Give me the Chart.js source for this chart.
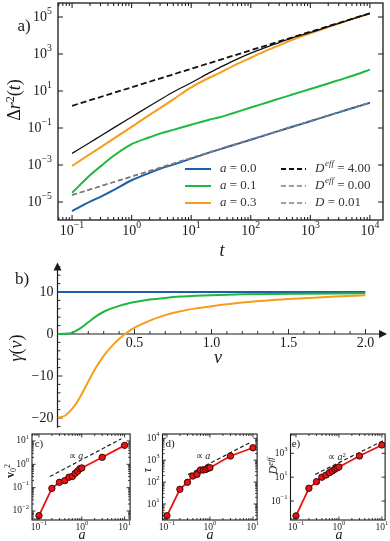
<!DOCTYPE html>
<html>
<head>
<meta charset="utf-8">
<script src="https://cdn.jsdelivr.net/npm/chart.js@4.4.0/dist/chart.umd.min.js"></script>
<style>
html, body { margin: 0; padding: 0; background: #fff; }
#wrap { position: relative; width: 390px; height: 541px; overflow: hidden; }
canvas { position: absolute; }
.lbl { position: absolute; transform: translate(-50%, -50%); white-space: nowrap; font-family: "Liberation Serif", serif; line-height: 1; color: #1a1a1a; }
.rot { transform: translate(-50%, -50%) rotate(-90deg); }
.lbl sup { font-size: 0.68em; vertical-align: 0.5em; line-height: 0; }
.lbl sub { font-size: 0.68em; vertical-align: -0.25em; line-height: 0; }
</style>
</head>
<body>
<div id="wrap">
  <canvas id="cA" width="390" height="245" style="left:0;top:0"></canvas>
  <canvas id="cB" width="390" height="182" style="left:0;top:250px"></canvas>
  <canvas id="cC" width="135" height="116" style="left:0;top:425px"></canvas>
  <canvas id="cD" width="127" height="116" style="left:135px;top:425px"></canvas>
  <canvas id="cE" width="128" height="116" style="left:262px;top:425px"></canvas>

  <div class="lbl" style="left:24px;top:25px;font-size:17px">a)</div>
  <div class="lbl rot" style="left:14px;top:100px;font-size:18px">Δ<i>r</i><sup>2</sup>(<i>t</i>)</div>
  <div class="lbl" style="left:222px;top:250px;font-size:18px"><i>t</i></div>

  <div class="lbl" style="left:22px;top:278px;font-size:17px">b)</div>
  <div class="lbl rot" style="left:16px;top:348px;font-size:18px"><i>γ</i>(<i>v</i>)</div>
  <div class="lbl" style="left:218px;top:357px;font-size:18px"><i>v</i></div>

  <div class="lbl" style="left:39px;top:443px;font-size:11px">c)</div>
  <div class="lbl rot" style="left:10px;top:471px;font-size:12px"><b>v</b><sub>0</sub><sup>2</sup></div>
  <div class="lbl" style="left:82px;top:535px;font-size:14px"><i>a</i></div>
  <div class="lbl" style="left:76px;top:456px;font-size:10px">∝ <i>a</i></div>

  <div class="lbl" style="left:170px;top:443px;font-size:11px">d)</div>
  <div class="lbl rot" style="left:147px;top:470px;font-size:12px"><i>τ</i></div>
  <div class="lbl" style="left:210px;top:535px;font-size:14px"><i>a</i></div>
  <div class="lbl" style="left:203px;top:456px;font-size:10px">∝ <i>a</i></div>

  <div class="lbl" style="left:296px;top:443px;font-size:11px">e)</div>
  <div class="lbl rot" style="left:273px;top:466px;font-size:12px"><i>D</i><sup><i>eff</i></sup></div>
  <div class="lbl" style="left:339px;top:535px;font-size:14px"><i>a</i></div>
  <div class="lbl" style="left:337px;top:457px;font-size:10px">∝ <i>a</i><sup>2</sup></div>
</div>

<script>
// ---- panel a: mean squared displacement ----
const tA = [0.1, 0.2, 0.3, 0.5, 1, 2, 3, 5, 10, 20, 30, 50, 100, 200, 300, 500, 1000, 2000, 3000, 5000, 10000];
const msdA00 = [3.24e-6, 1.05e-5, 1.91e-5, 4.47e-5, 1.51e-4, 3.8e-4, 6.31e-4, 1.05e-3, 2.24e-3, 4.68e-3, 7.08e-3, 0.0117, 0.0234, 0.0468, 0.0708, 0.117, 0.234, 0.468, 0.708, 1.17, 2.34];
const msdA01 = [3.16e-5, 2.82e-4, 8.5e-4, 3.16e-3, 0.0135, 0.0316, 0.0501, 0.0794, 0.151, 0.282, 0.38, 0.631, 1.29, 2.57, 3.89, 6.46, 12.9, 25.7, 38.9, 64.6, 145];
const msdA03 = [8.9e-4, 3.9e-3, 9.1e-3, 0.0269, 0.117, 0.513, 1.2, 3.55, 15.8, 52.5, 95.5, 224, 631, 1740, 2950, 5890, 13200, 28800, 44700, 77600, 158000];
const msdBlack = [4.27e-3, 0.0166, 0.0372, 0.102, 0.398, 1.55, 3.39, 8.9, 28.2, 95.5, 186, 417, 1122, 2630, 4170, 7590, 14800, 30200, 45700, 77600, 158000];
const tFit = [0.1, 10000];
const fitDeff4 = [1.6, 160000];
const fitDeff0 = [2.4e-5, 2.4];
const fitD001 = [2.4e-5, 2.4];

// ---- panel b: friction gamma(v) ----
const vB = [0, 0.05, 0.1, 0.15, 0.2, 0.25, 0.3, 0.35, 0.4, 0.45, 0.5, 0.6, 0.7, 0.8, 0.9, 1.0, 1.2, 1.4, 1.6, 1.8, 2.0];
const gammaA00 = [10, 10, 10, 10, 10, 10, 10, 10, 10, 10, 10, 10, 10, 10, 10, 10, 10, 10, 10, 10, 10];
const gammaA01 = [0, 0.05, 0.4, 1.4, 2.8, 4.2, 5.3, 6.1, 6.7, 7.2, 7.6, 8.2, 8.6, 8.9, 9.1, 9.25, 9.45, 9.55, 9.6, 9.65, 9.7];
const gammaA03 = [-20, -19.4, -17.6, -14.8, -11.3, -8.0, -5.2, -3.0, -1.2, 0.3, 1.5, 3.2, 4.5, 5.4, 6.1, 6.6, 7.5, 8.1, 8.5, 8.9, 9.2];

// ---- panels c, d, e: fitted parameters vs a ----
const aVals = [0.1, 0.2, 0.3, 0.4, 0.5, 0.6, 0.7, 0.8, 0.9, 1.0, 3.0, 10.0];
const v0sq = [0.0063, 0.093, 0.17, 0.2, 0.28, 0.3, 0.41, 0.51, 0.65, 0.7, 2.0, 6.5];
const tauVals = [2.9, 47, 98, 190, 225, 355, 355, 380, 425, 455, 1550, 3700];
const deffVals = [0.0057, 1.17, 4.2, 10, 15, 24, 33, 46, 59, 72, 600, 5000];
const aGuideC = [0.18, 8.4], guideC = [0.3, 12.5];
const aGuideD = [0.31, 8.7], guideD = [220, 6500];
const aGuideE = [0.28, 10.5], guideE = [17, 11000];

const SERIF = '"Liberation Serif", serif';
const INK = '#1a1a1a';
const BLUE = '#1d5ea8', GREEN = '#1db83d', ORANGE = '#f89c1c', RED = '#ee1111';

const pts = (xs, ys) => xs.map((x, i) => ({ x: x, y: ys[i] }));

function powLabel(ctx, x, y, exp, size, align) {
    const e = String(exp).replace('-', '\u2212');
    ctx.font = size + 'px ' + SERIF;
    const wb = ctx.measureText('10').width;
    ctx.font = (size * 0.7) + 'px ' + SERIF;
    const we = ctx.measureText(e).width;
    const x0 = align === 'right' ? x - wb - we : x - (wb + we) / 2;
    ctx.textAlign = 'left';
    ctx.textBaseline = 'middle';
    ctx.font = size + 'px ' + SERIF;
    ctx.fillText('10', x0, y);
    ctx.font = (size * 0.7) + 'px ' + SERIF;
    ctx.fillText(e, x0 + wb, y - size * 0.42);
}

// frame with inward ticks on all sides, 10^n labels
const logFrame = {
    id: 'logFrame',
    afterDatasetsDraw(chart, args, o) {
        const { ctx, chartArea: ca, scales } = chart;
        const xs = scales.x, ys = scales.y;
        ctx.save();
        ctx.strokeStyle = INK;
        ctx.fillStyle = INK;
        ctx.lineWidth = o.lw;
        ctx.strokeRect(ca.left, ca.top, ca.right - ca.left, ca.bottom - ca.top);
        ctx.lineWidth = o.lw * 0.8;

        function ticksFor(scale, majors, minor) {
            const out = [];
            const lo = Math.floor(Math.log10(scale.min)), hi = Math.ceil(Math.log10(scale.max));
            majors.forEach(k => out.push([Math.pow(10, k), o.maj]));
            if (minor) {
                for (let k = lo; k <= hi; k++) {
                    for (let m = 2; m <= 9; m++) {
                        const v = m * Math.pow(10, k);
                        if (v > scale.min && v < scale.max) out.push([v, o.min]);
                    }
                }
            }
            return out;
        }
        ctx.beginPath();
        ticksFor(xs, o.xMaj, o.xMinor).forEach(([v, len]) => {
            const p = xs.getPixelForValue(v);
            ctx.moveTo(p, ca.bottom); ctx.lineTo(p, ca.bottom - len);
            ctx.moveTo(p, ca.top); ctx.lineTo(p, ca.top + len);
        });
        ticksFor(ys, o.yMaj, o.yMinor).forEach(([v, len]) => {
            const p = ys.getPixelForValue(v);
            ctx.moveTo(ca.left, p); ctx.lineTo(ca.left + len, p);
            ctx.moveTo(ca.right, p); ctx.lineTo(ca.right - len, p);
        });
        ctx.stroke();

        o.xLab.forEach(k => powLabel(ctx, xs.getPixelForValue(Math.pow(10, k)), ca.bottom + o.xOff, k, o.fs, 'center'));
        o.yLab.forEach(k => powLabel(ctx, ca.left - o.yOff, ys.getPixelForValue(Math.pow(10, k)), k, o.fs, 'right'));
        ctx.restore();
    }
};

// legend of panel a, two columns
const legendA = {
    id: 'legendA',
    afterDraw(chart) {
        const ctx = chart.ctx;
        const rows = [169, 186, 203];
        const left = [
            { c: BLUE, v: '0.0' }, { c: GREEN, v: '0.1' }, { c: ORANGE, v: '0.3' }
        ];
        const right = [
            { c: '#111', w: 1.8, s: 'eff', v: '4.00' },
            { c: '#7d7d7d', w: 1.5, s: 'eff', v: '0.00' },
            { c: '#7d7d7d', w: 1.5, s: '', v: '0.01' }
        ];
        ctx.save();
        ctx.textBaseline = 'middle';
        ctx.textAlign = 'left';
        rows.forEach((y, i) => {
            ctx.setLineDash([]);
            ctx.strokeStyle = left[i].c;
            ctx.lineWidth = 2;
            ctx.beginPath(); ctx.moveTo(185, y); ctx.lineTo(211, y); ctx.stroke();
            ctx.fillStyle = '#333';
            ctx.font = 'italic 13px ' + SERIF;
            ctx.fillText('a', 220, y);
            let x = 220 + ctx.measureText('a').width;
            ctx.font = '13px ' + SERIF;
            ctx.fillText(' = ' + left[i].v, x, y);

            ctx.setLineDash([5, 3]);
            ctx.strokeStyle = right[i].c;
            ctx.lineWidth = right[i].w;
            ctx.beginPath(); ctx.moveTo(281, y); ctx.lineTo(306, y); ctx.stroke();
            ctx.font = 'italic 13px ' + SERIF;
            ctx.fillText('D', 315, y);
            x = 315 + ctx.measureText('D').width;
            if (right[i].s) {
                ctx.font = 'italic 9px ' + SERIF;
                ctx.fillText(right[i].s, x + 0.5, y - 5);
                x += ctx.measureText(right[i].s).width + 0.5;
            }
            ctx.font = '13px ' + SERIF;
            ctx.fillText(' = ' + right[i].v, x, y);
        });
        ctx.restore();
    }
};

function line(data, color, width, order, dash) {
    return {
        data: data,
        borderColor: color,
        borderWidth: width,
        borderDash: dash || [],
        pointRadius: 0,
        fill: false,
        cubicInterpolationMode: 'monotone',
        order: order
    };
}

function logAxis(lmin, lmax) {
    return { type: 'logarithmic', display: false, min: Math.pow(10, lmin), max: Math.pow(10, lmax) };
}

new Chart(document.getElementById('cA'), {
    type: 'line',
    data: {
        datasets: [
            line(pts(tFit, fitDeff4), '#111', 1.8, 0, [6, 3]),
            line(pts(tFit, fitDeff0), '#7d7d7d', 1.5, 1, [5, 3]),
            line(pts(tFit, fitD001), '#7d7d7d', 1.5, 1, [5, 3]),
            line(pts(tA, msdBlack), '#111', 1.3, 2),
            line(pts(tA, msdA00), BLUE, 2, 3),
            line(pts(tA, msdA01), GREEN, 2, 3),
            line(pts(tA, msdA03), ORANGE, 2, 3)
        ]
    },
    options: {
        responsive: false,
        animation: false,
        layout: { padding: { left: 58, top: 3, right: 7, bottom: 25 } },
        scales: { x: logAxis(-1.236, 4.22), y: logAxis(-5.97, 5.76) },
        plugins: {
            legend: { display: false },
            tooltip: { enabled: false },
            logFrame: {
                lw: 1.3, maj: 5, min: 3, fs: 14, xOff: 11, yOff: 6,
                xMaj: [-1, 0, 1, 2, 3, 4], xMinor: true,
                yMaj: [-5, -3, -1, 1, 3, 5], yMinor: false,
                xLab: [-1, 0, 1, 2, 3, 4], yLab: [-5, -3, -1, 1, 3, 5]
            }
        }
    },
    plugins: [logFrame, legendA]
});

// panel b: arrowed axes through the origin
const arrowAxes = {
    id: 'arrowAxes',
    beforeDatasetsDraw(chart) {
        const { ctx, scales: { x, y } } = chart;
        const x0 = x.getPixelForValue(0), y0 = y.getPixelForValue(0);
        const yTop = y.getPixelForValue(17), xEnd = x.getPixelForValue(2.14);
        const yBot = y.getPixelForValue(-22.3);
        ctx.save();
        ctx.strokeStyle = INK;
        ctx.fillStyle = INK;
        ctx.lineWidth = 1.2;
        ctx.beginPath();
        ctx.moveTo(x0, yBot); ctx.lineTo(x0, yTop + 6);
        ctx.moveTo(x0, y0); ctx.lineTo(xEnd - 6, y0);
        ctx.stroke();
        ctx.beginPath();
        ctx.moveTo(x0, yTop); ctx.lineTo(x0 - 4, yTop + 8); ctx.lineTo(x0 + 4, yTop + 8); ctx.closePath();
        ctx.moveTo(xEnd, y0); ctx.lineTo(xEnd - 8, y0 - 4); ctx.lineTo(xEnd - 8, y0 + 4); ctx.closePath();
        ctx.fill();

        ctx.lineWidth = 0.9;
        ctx.beginPath();
        for (let i = 1; i <= 20; i++) {
            const p = x.getPixelForValue(i / 10);
            const len = i % 5 === 0 ? 5 : 3;
            ctx.moveTo(p, y0); ctx.lineTo(p, y0 - len);
        }
        for (let g = -22; g <= 16; g += 2) {
            if (g === 0) continue;
            const p = y.getPixelForValue(g);
            const len = g % 10 === 0 ? 5 : 3;
            ctx.moveTo(x0, p); ctx.lineTo(x0 + len, p);
        }
        ctx.stroke();

        ctx.font = '14px ' + SERIF;
        ctx.textBaseline = 'middle';
        ctx.textAlign = 'center';
        ['0.5', '1.0', '1.5', '2.0'].forEach(s => ctx.fillText(s, x.getPixelForValue(parseFloat(s)), y0 + 9));
        ctx.textAlign = 'right';
        [10, 0, -10, -20].forEach(g => ctx.fillText(String(g).replace('-', '\u2212'), x0 - 4, y.getPixelForValue(g)));
        ctx.restore();
    }
};

new Chart(document.getElementById('cB'), {
    type: 'line',
    data: {
        datasets: [
            line(pts(vB, gammaA00), BLUE, 2, 2),
            line(pts(vB, gammaA01), GREEN, 2, 1),
            line(pts(vB, gammaA03), ORANGE, 2, 0)
        ]
    },
    options: {
        responsive: false,
        animation: false,
        layout: { padding: { left: 57.5, top: 12.6, right: 24.5, bottom: 5.6 } },
        scales: {
            x: { type: 'linear', display: false, min: 0, max: 2 },
            y: { type: 'linear', display: false, min: -22, max: 17 }
        },
        plugins: { legend: { display: false }, tooltip: { enabled: false } }
    },
    plugins: [arrowAxes]
});

function smallPanel(id, pad, xr, yr, vals, gx, gy, frame) {
    new Chart(document.getElementById(id), {
        type: 'line',
        data: {
            datasets: [
                {
                    data: pts(aVals, vals),
                    borderColor: RED,
                    borderWidth: 1.8,
                    pointRadius: 3.2,
                    pointBackgroundColor: '#e31414',
                    pointBorderColor: '#300',
                    pointBorderWidth: 0.9,
                    tension: 0,
                    order: 0
                },
                line(pts(gx, gy), '#222', 1.2, 1, [4, 2.5])
            ]
        },
        options: {
            responsive: false,
            animation: false,
            layout: { padding: pad },
            scales: { x: logAxis(xr[0], xr[1]), y: logAxis(yr[0], yr[1]) },
            plugins: {
                legend: { display: false },
                tooltip: { enabled: false },
                logFrame: Object.assign({
                    lw: 1.1, maj: 3.5, min: 2, fs: 9.5, xOff: 7, yOff: 3,
                    xMaj: [-1, 0, 1], xMinor: true, xLab: [-1, 0, 1]
                }, frame)
            }
        },
        plugins: [logFrame]
    });
}

smallPanel('cC', { left: 32, top: 9, right: 4.5, bottom: 21 }, [-1.163, 1.128], [-2.386, 1.3],
    v0sq, aGuideC, guideC, { yMaj: [-2, -1, 0, 1], yMinor: true, yLab: [-2, -1, 0, 1] });
smallPanel('cD', { left: 27.5, top: 9, right: 3.5, bottom: 21 }, [-1.103, 1.096], [0.27, 4.196],
    tauVals, aGuideD, guideD, { yMaj: [1, 2, 3, 4], yMinor: true, yLab: [1, 2, 3, 4] });
smallPanel('cE', { left: 28.5, top: 9, right: 4.5, bottom: 21 }, [-1.127, 1.074], [-2.59, 4.62],
    deffVals, aGuideE, guideE, { yMaj: [-1, 1, 3], yMinor: false, yLab: [-1, 1, 3] });
</script>
</body>
</html>
